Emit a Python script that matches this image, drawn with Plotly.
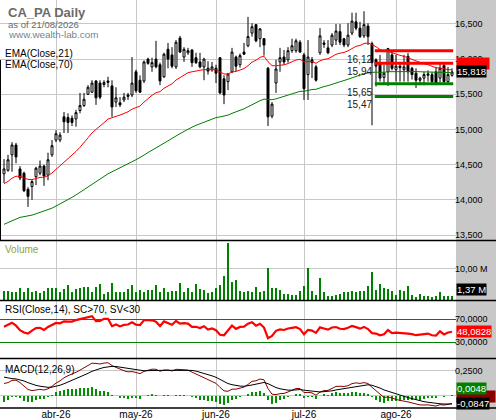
import pandas as pd
import plotly.graph_objects as go

# trading days 13/03/2026 .. 21/08/2026 (Euronext closed on the holidays)
holidays = ["2026-04-03", "2026-04-06", "2026-05-01"]
dates = [d.strftime("%Y-%m-%d") for d in pd.bdate_range("2026-03-13", "2026-08-21")
         if d.strftime("%Y-%m-%d") not in holidays]

month_ticks = ["2026-04-01", "2026-05-04", "2026-06-01", "2026-07-01", "2026-08-03"]
month_labels = ["abr-26", "may-26", "jun-26", "jul-26", "ago-26"]

opens = [14.37, 14.42, 14.64, 14.78, 14.44, 14.38, 14.15, 14.19, 14.33, 14.38,
         14.48, 14.35, 14.64, 14.85, 14.85, 15.18, 15.17, 15.16, 15.15, 15.27,
         15.34, 15.50, 15.53, 15.69, 15.66, 15.64, 15.69, 15.62, 15.39, 15.38,
         15.42, 15.47, 15.49, 15.82, 15.70, 15.69, 16.00, 15.89, 16.00, 15.92,
         15.75, 16.14, 16.06, 15.89, 16.30, 16.03, 16.09, 16.13, 16.02, 15.96,
         15.89, 15.87, 15.85, 15.87, 16.02, 15.72, 15.68, 15.82, 16.03, 15.92,
         16.10, 16.19, 16.37, 16.49, 16.29, 16.29, 15.87, 15.19, 15.66, 15.96,
         16.03, 15.99, 16.12, 16.12, 16.24, 16.06, 15.78, 15.99, 15.89, 16.09,
         16.23, 16.16, 16.20, 16.27, 16.39, 16.29, 16.20, 16.37, 16.53, 16.44,
         16.33, 16.47, 16.22, 15.99, 15.94, 15.74, 15.82, 16.06, 15.85, 15.90,
         15.85, 16.04, 15.87, 15.80, 15.70, 15.73, 15.77, 15.78, 15.82, 15.73,
         15.91, 15.68, 15.77]
highs = [14.58, 14.64, 14.82, 14.81, 14.48, 14.40, 14.18, 14.28, 14.47, 14.56,
         14.50, 14.67, 14.85, 14.99, 14.96, 15.25, 15.23, 15.20, 15.28, 15.52,
         15.52, 15.63, 15.70, 15.70, 15.70, 15.70, 15.75, 15.70, 15.60, 15.46,
         15.52, 15.52, 16.03, 15.85, 15.77, 15.98, 16.02, 16.02, 16.26, 15.95,
         16.09, 16.23, 16.17, 16.27, 16.33, 16.17, 16.16, 16.14, 16.09, 16.09,
         16.02, 15.97, 15.96, 15.92, 16.03, 15.77, 15.80, 16.16, 16.05, 16.08,
         16.23, 16.60, 16.51, 16.50, 16.44, 16.30, 15.89, 15.39, 15.99, 16.16,
         16.13, 16.17, 16.29, 16.29, 16.27, 16.09, 16.27, 16.03, 15.92, 16.44,
         16.27, 16.27, 16.37, 16.50, 16.50, 16.30, 16.51, 16.66, 16.66, 16.53,
         16.68, 16.51, 16.25, 16.01, 16.06, 15.92, 16.16, 16.10, 16.06, 15.96,
         16.06, 16.09, 15.89, 15.87, 15.75, 15.82, 15.84, 15.82, 15.89, 15.94,
         15.94, 15.89, 15.87]
lows = [14.24, 14.40, 14.40, 14.52, 14.28, 14.11, 13.90, 14.00, 14.21, 14.35,
        14.20, 14.28, 14.61, 14.82, 14.82, 14.95, 14.95, 15.05, 15.04, 15.23,
        15.32, 15.49, 15.52, 15.35, 15.43, 15.60, 15.60, 15.18, 15.32, 15.32,
        15.39, 15.42, 15.46, 15.52, 15.52, 15.66, 15.92, 15.82, 15.87, 15.63,
        15.73, 15.87, 15.87, 15.86, 16.09, 15.96, 16.06, 15.89, 15.93, 15.87,
        15.70, 15.78, 15.82, 15.66, 15.50, 15.36, 15.56, 15.80, 15.83, 15.88,
        16.06, 16.17, 16.32, 16.24, 16.17, 16.05, 15.05, 15.16, 15.52, 15.82,
        15.92, 15.95, 16.09, 16.09, 16.09, 15.42, 15.42, 15.73, 15.68, 16.06,
        16.16, 16.07, 16.17, 16.20, 16.20, 16.17, 16.17, 16.34, 16.41, 16.30,
        16.30, 16.20, 15.06, 15.61, 15.68, 15.64, 15.62, 15.84, 15.68, 15.68,
        15.68, 15.68, 15.71, 15.59, 15.63, 15.63, 15.68, 15.63, 15.63, 15.66,
        15.66, 15.66, 15.75]
closes = [14.44, 14.57, 14.78, 14.61, 14.31, 14.13, 14.05, 14.26, 14.45, 14.48,
          14.34, 14.57, 14.77, 14.94, 14.92, 15.11, 15.10, 15.10, 15.24, 15.34,
          15.43, 15.60, 15.66, 15.45, 15.46, 15.67, 15.67, 15.32, 15.45, 15.35,
          15.46, 15.49, 15.66, 15.55, 15.53, 15.96, 15.94, 15.95, 15.89, 15.69,
          16.07, 16.00, 15.90, 16.24, 16.10, 16.14, 16.12, 15.95, 15.95, 15.89,
          16.00, 15.83, 15.89, 15.80, 15.52, 15.49, 15.79, 16.10, 15.90, 16.05,
          16.07, 16.32, 16.46, 16.26, 16.43, 16.20, 15.18, 15.36, 15.86, 16.02,
          15.96, 16.12, 16.19, 16.26, 16.10, 15.58, 16.03, 15.95, 15.70, 16.33,
          16.21, 16.09, 16.34, 16.40, 16.24, 16.20, 16.34, 16.54, 16.44, 16.32,
          16.49, 16.32, 15.95, 15.90, 15.73, 15.80, 16.15, 15.87, 15.90, 15.88,
          15.89, 15.82, 15.78, 15.70, 15.73, 15.78, 15.79, 15.68, 15.66, 15.87,
          15.68, 15.78, 15.818]
volume_m = [2.8, 3.0, 2.7, 2.5, 3.8, 2.7, 4.0, 2.5, 3.0, 2.2,
            3.0, 4.0, 4.0, 4.0, 2.5, 3.5, 4.9, 2.5, 3.5, 4.0,
            4.3, 4.3, 2.7, 4.3, 5.0, 1.8, 2.5, 5.6, 2.5, 2.5,
            2.5, 3.5, 4.9, 2.5, 3.3, 2.7, 3.2, 3.2, 4.9, 2.5,
            3.8, 2.5, 3.0, 3.0, 5.6, 2.7, 3.8, 2.5, 5.3, 3.5,
            3.2, 2.3, 2.5, 4.0, 4.9, 7.8, 18.3, 5.9, 6.6, 3.0,
            2.5, 2.9, 2.7, 4.3, 2.7, 3.0, 10.4, 4.0, 4.0, 3.3,
            1.9, 1.9, 1.6, 1.6, 3.0, 4.6, 10.4, 3.0, 1.7, 7.2,
            2.7, 1.2, 1.4, 1.6, 1.9, 2.7, 2.7, 2.9, 2.7, 3.0,
            3.0, 4.6, 9.1, 3.3, 5.3, 3.8, 3.5, 2.9, 1.6, 3.3,
            2.9, 4.6, 1.6, 1.0, 1.8, 1.4, 1.2, 1.0, 1.2, 2.5,
            1.2, 1.2, 1.37]

resistance = [16.12, 15.94]
support = [15.65, 15.47]

# indicator state at the start of the window
ema21_seed = 14.21
ema70_seed = 13.63
ema12_seed, ema26_seed, signal_seed = 14.33, 14.21, 0.20
rsi_prev_close, rsi_gain_seed, rsi_loss_seed = 14.38, 0.085, 0.068


def ema(values, n, seed):
    k = 2 / (n + 1)
    out, prev = [], seed
    for v in values:
        prev = prev + k * (v - prev)
        out.append(prev)
    return out


def rsi(values, n, prev, gain, loss):
    out = []
    for v in values:
        ch = v - prev
        gain = (gain * (n - 1) + max(ch, 0)) / n
        loss = (loss * (n - 1) + max(-ch, 0)) / n
        out.append(100 - 100 / (1 + gain / loss))
        prev = v
    return out


ema21 = ema(closes, 21, ema21_seed)
ema70 = ema(closes, 70, ema70_seed)
macd = [a - b for a, b in zip(ema(closes, 12, ema12_seed), ema(closes, 26, ema26_seed))]
signal = ema(macd, 9, signal_seed)
hist = [m - s for m, s in zip(macd, signal)]
rsi14 = rsi(closes, 14, rsi_prev_close, rsi_gain_seed, rsi_loss_seed)


def dec(v, n):
    return f"{v:.{n}f}".replace(".", ",")


W, H = 496, 420
XR = 456 / W          # right edge of the plotting area
FONT = "Liberation Sans"
GRID = "#c8c8c8"


def py(px):           # pixel row -> paper y
    return 1 - px / H


fig = go.Figure()

fig.add_trace(go.Candlestick(
    x=dates, open=opens, high=highs, low=lows, close=closes,
    increasing=dict(line=dict(color="black", width=1), fillcolor="white"),
    decreasing=dict(line=dict(color="black", width=1), fillcolor="black"),
    whiskerwidth=0, showlegend=False, hoverinfo="skip", xaxis="x", yaxis="y"))
fig.add_trace(go.Scatter(x=dates, y=ema21, mode="lines", line=dict(color="#ff0000", width=1),
                         showlegend=False, xaxis="x", yaxis="y"))
fig.add_trace(go.Scatter(x=dates, y=ema70, mode="lines", line=dict(color="#008000", width=1),
                         showlegend=False, xaxis="x", yaxis="y"))

fig.add_trace(go.Bar(x=dates, y=volume_m, width=0.5, marker=dict(color="#008000", line=dict(width=0)),
                     showlegend=False, xaxis="x2", yaxis="y2"))

fig.add_trace(go.Scatter(x=dates, y=rsi14, mode="lines", line=dict(color="#ff0000", width=2.2),
                         showlegend=False, xaxis="x3", yaxis="y3"))

fig.add_trace(go.Bar(x=dates, y=hist, width=0.35, marker=dict(color="#009000", line=dict(width=0)),
                     showlegend=False, xaxis="x4", yaxis="y4"))
fig.add_trace(go.Scatter(x=dates, y=macd, mode="lines", line=dict(color="#8b0000", width=1),
                         showlegend=False, xaxis="x4", yaxis="y4"))
fig.add_trace(go.Scatter(x=dates, y=signal, mode="lines", line=dict(color="black", width=1),
                         showlegend=False, xaxis="x4", yaxis="y4"))

xcommon = dict(type="category", range=[-1, len(dates)], domain=[0, XR], showgrid=True,
               gridcolor=GRID, gridwidth=1, tickvals=month_ticks, ticks="", showline=False,
               zeroline=False, fixedrange=True)
ycommon = dict(side="right", showgrid=True, gridcolor=GRID, gridwidth=1, ticks="",
               zeroline=False, showline=False, ticklabelstandoff=-2, fixedrange=True,
               tickfont=dict(family=FONT, size=9, color="black"))

fig.update_layout(
    width=W, height=H, margin=dict(l=0, r=0, t=0, b=0),
    paper_bgcolor="white", plot_bgcolor="white", separators=",.",
    showlegend=False, bargap=0, hovermode=False,
    xaxis=dict(xcommon, anchor="y", showticklabels=False, rangeslider=dict(visible=False)),
    xaxis2=dict(xcommon, anchor="y2", matches="x", showticklabels=False),
    xaxis3=dict(xcommon, anchor="y3", matches="x", showticklabels=False),
    xaxis4=dict(xcommon, anchor="y4", matches="x", showticklabels=True, ticktext=month_labels,
                ticklabelstandoff=-1, tickfont=dict(family=FONT, size=10, color="black")),
    yaxis=dict(ycommon, domain=[py(240), 1], range=[13.43, 16.84],
               tickvals=[13.5, 14.0, 14.5, 15.0, 15.5, 16.0, 16.5], tickformat=".3f"),
    yaxis2=dict(ycommon, domain=[py(300), py(241)], range=[0, 19],
                tickvals=[10], ticktext=["10,00 M"]),
    yaxis3=dict(ycommon, domain=[py(358), py(301)], range=[3, 101], gridcolor="#008000",
                tickvals=[30, 70], tickformat=".4f"),
    yaxis4=dict(ycommon, domain=[py(408), py(359)], range=[-0.125, 0.365],
                tickvals=[0, 0.25], ticktext=["", "0,2500"]),
)

shapes = [dict(type="rect", xref="paper", yref="paper", x0=XR, x1=1, y0=0, y1=1,
               fillcolor="#c8c8c8", line=dict(width=0), layer="below")]
for pxrow in [240.5, 300.5, 358.5, 408]:
    shapes.append(dict(type="line", xref="paper", yref="paper", x0=0, x1=1, y0=py(pxrow), y1=py(pxrow),
                       line=dict(color="black", width=1.5)))
shapes.append(dict(type="line", xref="paper", yref="paper", x0=0.001, x1=0.001, y0=py(240), y1=py(60),
                   line=dict(color="black", width=1)))
for lvl in resistance:
    shapes.append(dict(type="line", xref="x", yref="y", x0=92.7, x1=112.3, y0=lvl, y1=lvl,
                       line=dict(color="#ff0000", width=3)))
for lvl in support:
    shapes.append(dict(type="line", xref="x", yref="y", x0=92.7, x1=112.3, y0=lvl, y1=lvl,
                       line=dict(color="#008000", width=3)))
fig.update_layout(shapes=shapes)

ann = []


def text(x, y, s, size=10, color="black", bold=False):
    ann.append(dict(xref="paper", yref="paper", x=x / W, y=py(y), text=f"<b>{s}</b>" if bold else s,
                    showarrow=False, xanchor="left", yanchor="middle",
                    font=dict(family=FONT, size=size, color=color)))


text(6, 12, "CA_PA Daily", 13, "#6a6a6a", bold=True)
text(6, 24, "as of 21/08/2026", 9.5, "#6a6a6a")
text(6, 34.5, "www.wealth-lab.com", 9.8, "#6f8596")
text(3, 53, "EMA(Close,21)", 10, "black")
text(3, 64, "EMA(Close,70)", 10, "black")
text(3, 249.5, "Volume", 10, "#98a032")
text(3, 309, "RSI(Close,14), SC&gt;70, SV&lt;30", 10, "black")
text(3, 369, "MACD(12,26,9)", 10, "black")

for lvl in resistance + support:
    ann.append(dict(xref="x", yref="y", x=92.6, y=lvl, text=dec(lvl, 2), showarrow=False,
                    xanchor="right", yanchor="top", yshift=-1,
                    font=dict(family=FONT, size=10, color="#202020")))


def tag(yref, y, s, bg, fg="white", anchor="middle"):
    ann.append(dict(xref="paper", yref=yref, x=XR, y=y, text=s, showarrow=False,
                    xanchor="left", yanchor=anchor, bgcolor=bg, borderpad=0,
                    font=dict(family=FONT, size=9.5, color=fg)))


tag("y", ema21[-1], dec(ema21[-1], 3) + "&nbsp;", "#ff0000", "#ff0000", "bottom")
tag("y", closes[-1], dec(closes[-1], 3), "black")
tag("y2", volume_m[-1], dec(volume_m[-1], 2) + " M", "black", anchor="bottom")
tag("y3", rsi14[-1], dec(rsi14[-1], 4), "#ff0000")
tag("y4", macd[-1], dec(macd[-1], 4) + "&nbsp;&nbsp;", "#8b0000", "#8b0000", "bottom")
tag("y4", hist[-1], dec(hist[-1], 4), "#008000", anchor="bottom")
tag("y4", signal[-1], dec(signal[-1], 4), "black")

fig.update_layout(annotations=ann)

# the page's default body margin would shift the figure by 8 px
fig.write_html("out.html", config={"displayModeBar": False, "staticPlot": True},
               post_script="document.body.style.margin='0';")
